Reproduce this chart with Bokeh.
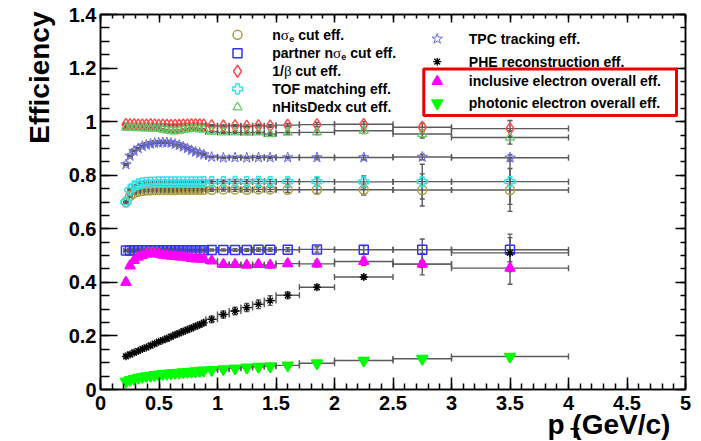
import numpy as np
from bokeh.plotting import figure
from bokeh.models import (LinearAxis, FixedTicker, ColumnDataSource, Label,
                          BoxAnnotation, Range1d, Title)
from bokeh.embed import file_html
from bokeh.resources import INLINE

# ---------------- data ----------------
pt_edges = [0.2, 0.235, 0.27, 0.305, 0.34, 0.375, 0.41, 0.445, 0.48, 0.515, 0.55,
            0.585, 0.62, 0.655, 0.69, 0.725, 0.76, 0.795, 0.83, 0.865, 0.9,
            1.0, 1.1, 1.2, 1.3, 1.4, 1.5, 1.7, 2.0, 2.5, 3.0, 4.0]

nsige_eff = [0.700, 0.722, 0.733, 0.738, 0.741, 0.743, 0.744, 0.745, 0.745, 0.745,
             0.745, 0.745, 0.745, 0.746, 0.746, 0.746, 0.746, 0.746, 0.746, 0.746,
             0.746, 0.747, 0.747, 0.746, 0.747, 0.747, 0.746, 0.746, 0.746, 0.745, 0.745]
nsige_err = [0.006, 0.004, 0.004, 0.004, 0.004, 0.004, 0.004, 0.004, 0.004, 0.004,
             0.004, 0.004, 0.004, 0.004, 0.004, 0.004, 0.004, 0.004, 0.004, 0.004,
             0.006, 0.006, 0.007, 0.007, 0.008, 0.008, 0.010, 0.014, 0.020, 0.060, 0.080]

partner_eff = [0.519, 0.519, 0.520, 0.520, 0.520, 0.520, 0.520, 0.520, 0.520, 0.520,
               0.520, 0.520, 0.520, 0.520, 0.520, 0.520, 0.520, 0.520, 0.520, 0.520,
               0.521, 0.521, 0.521, 0.521, 0.522, 0.522, 0.522, 0.523, 0.522, 0.522, 0.522]
partner_err = [0.003, 0.003, 0.003, 0.003, 0.003, 0.003, 0.003, 0.003, 0.003, 0.003,
               0.003, 0.003, 0.003, 0.003, 0.003, 0.003, 0.003, 0.003, 0.003, 0.003,
               0.004, 0.004, 0.005, 0.005, 0.006, 0.006, 0.007, 0.010, 0.015, 0.040, 0.045]

beta_eff = [0.990, 0.989, 0.989, 0.988, 0.988, 0.988, 0.989, 0.988, 0.987, 0.988,
            0.987, 0.986, 0.987, 0.987, 0.988, 0.988, 0.989, 0.989, 0.989, 0.988,
            0.985, 0.984, 0.985, 0.983, 0.985, 0.984, 0.987, 0.989, 0.990, 0.979, 0.974]
beta_err = [0.003, 0.003, 0.003, 0.003, 0.003, 0.003, 0.003, 0.003, 0.003, 0.003,
            0.003, 0.003, 0.003, 0.003, 0.003, 0.003, 0.003, 0.003, 0.003, 0.003,
            0.004, 0.004, 0.004, 0.005, 0.005, 0.005, 0.006, 0.008, 0.010, 0.015, 0.030]

tof_eff = [0.700, 0.745, 0.760, 0.767, 0.771, 0.773, 0.774, 0.774, 0.775, 0.775,
           0.775, 0.775, 0.775, 0.775, 0.775, 0.775, 0.775, 0.775, 0.775, 0.776,
           0.776, 0.776, 0.777, 0.776, 0.777, 0.776, 0.776, 0.776, 0.775, 0.776, 0.776]
tof_err = [0.006, 0.004, 0.004, 0.004, 0.004, 0.004, 0.004, 0.004, 0.004, 0.004,
           0.004, 0.004, 0.004, 0.004, 0.004, 0.004, 0.004, 0.004, 0.004, 0.004,
           0.006, 0.006, 0.007, 0.007, 0.008, 0.008, 0.010, 0.015, 0.022, 0.065, 0.085]

dedx_eff = [0.978, 0.977, 0.977, 0.976, 0.976, 0.975, 0.975, 0.974, 0.973, 0.971,
            0.968, 0.965, 0.964, 0.966, 0.970, 0.972, 0.973, 0.973, 0.972, 0.971,
            0.962, 0.960, 0.960, 0.959, 0.960, 0.954, 0.959, 0.960, 0.966, 0.954, 0.941]
dedx_err = [0.003, 0.003, 0.003, 0.003, 0.003, 0.003, 0.003, 0.003, 0.003, 0.003,
            0.003, 0.003, 0.003, 0.003, 0.003, 0.003, 0.003, 0.003, 0.003, 0.003,
            0.004, 0.004, 0.004, 0.005, 0.005, 0.005, 0.006, 0.008, 0.010, 0.015, 0.025]

tpc_eff = [0.840, 0.872, 0.890, 0.900, 0.908, 0.913, 0.917, 0.920, 0.921, 0.922,
           0.922, 0.920, 0.916, 0.912, 0.906, 0.900, 0.893, 0.887, 0.882, 0.877,
           0.868, 0.865, 0.866, 0.865, 0.866, 0.866, 0.866, 0.866, 0.866, 0.868, 0.865]
tpc_err = [0.003, 0.003, 0.003, 0.003, 0.003, 0.003, 0.003, 0.003, 0.003, 0.003,
           0.003, 0.003, 0.003, 0.003, 0.003, 0.003, 0.003, 0.003, 0.003, 0.003,
           0.003, 0.003, 0.003, 0.003, 0.004, 0.004, 0.004, 0.006, 0.008, 0.010, 0.012]

phe_eff = [0.124, 0.131, 0.138, 0.144, 0.151, 0.157, 0.164, 0.171, 0.178, 0.184,
           0.190, 0.197, 0.204, 0.210, 0.217, 0.223, 0.229, 0.236, 0.242, 0.249,
           0.262, 0.280, 0.293, 0.306, 0.318, 0.332, 0.352, 0.382, 0.420, 0.468, 0.510]
phe_err = [0.008, 0.008, 0.008, 0.008, 0.008, 0.008, 0.008, 0.008, 0.008, 0.008,
           0.009, 0.009, 0.009, 0.009, 0.010, 0.010, 0.010, 0.010, 0.010, 0.010,
           0.012, 0.013, 0.014, 0.015, 0.016, 0.018, 0.012, 0.010, 0.008, 0.012, 0.070]

incl_eff = [0.400, 0.462, 0.482, 0.494, 0.501, 0.505, 0.507, 0.507, 0.505, 0.502,
            0.500, 0.498, 0.497, 0.495, 0.494, 0.492, 0.490, 0.488, 0.487, 0.487,
            0.480, 0.467, 0.467, 0.464, 0.467, 0.464, 0.470, 0.469, 0.478, 0.468, 0.453]
incl_err = [0.006, 0.006, 0.006, 0.006, 0.006, 0.006, 0.006, 0.006, 0.006, 0.006,
            0.006, 0.006, 0.006, 0.006, 0.006, 0.006, 0.006, 0.006, 0.006, 0.006,
            0.008, 0.008, 0.008, 0.008, 0.009, 0.010, 0.010, 0.012, 0.015, 0.040, 0.060]

phot_eff = [0.030, 0.036, 0.040, 0.044, 0.047, 0.050, 0.052, 0.054, 0.056, 0.058,
            0.059, 0.061, 0.062, 0.063, 0.065, 0.066, 0.067, 0.068, 0.070, 0.071,
            0.073, 0.076, 0.079, 0.082, 0.085, 0.087, 0.090, 0.098, 0.108, 0.115, 0.123]
phot_err = [0.002, 0.002, 0.002, 0.002, 0.002, 0.002, 0.002, 0.002, 0.002, 0.002,
            0.002, 0.002, 0.002, 0.002, 0.002, 0.002, 0.002, 0.002, 0.002, 0.002,
            0.003, 0.003, 0.003, 0.003, 0.004, 0.004, 0.004, 0.005, 0.006, 0.008, 0.010]

x_ticks = [0, 0.5, 1, 1.5, 2, 2.5, 3, 3.5, 4, 4.5, 5]
x_tick_labels = ["0", "0.5", "1", "1.5", "2", "2.5", "3", "3.5", "4", "4.5", "5"]
y_ticks = [0, 0.2, 0.4, 0.6, 0.8, 1.0, 1.2, 1.4]
y_tick_labels = ["0", "0.2", "0.4", "0.6", "0.8", "1", "1.2", "1.4"]

# ---------------- styles ----------------
FONT = "Liberation Sans"
ERR_COLOR = "#5a5a5a"

styles = [
    # key, values, errors, marker, color, filled, size, line width
    ("nsige", nsige_eff, nsige_err, "circle", "#aaa040", False, 9, 1.5),
    ("partner", partner_eff, partner_err, "square", "#3030ff", False, 9, 1.5),
    ("beta", beta_eff, beta_err, "diamond", "#ff4a4a", False, 12, 1.5),
    ("tof", tof_eff, tof_err, "plus", "#30e4e8", False, 10, 1.5),
    ("dedx", dedx_eff, dedx_err, "triangle", "#66cc66", False, 9, 1.3),
    ("tpc", tpc_eff, tpc_err, "star", "#6a6ae0", False, 11, 1.0),
    ("phe", phe_eff, phe_err, "asterisk", "#000000", False, 8, 1.3),
    ("incl", incl_eff, incl_err, "triangle", "#ff00ff", True, 10, 1.5),
    ("phot", phot_eff, phot_err, "inverted_triangle", "#00ff00", True, 11, 1.5),
]

p = figure(width=701, height=441, x_range=Range1d(0, 5), y_range=Range1d(0, 1.4),
           output_backend="svg", toolbar_location=None,
           min_border_left=100, min_border_right=16, min_border_top=14,
           min_border_bottom=52)
p.grid.visible = False
p.outline_line_color = "black"
p.outline_line_width = 1.5
p.background_fill_color = "white"
p.border_fill_color = "white"

lo = np.array(pt_edges[:-1])
hi = np.array(pt_edges[1:])
xc = (lo + hi) / 2

sources = []
for key, vals, errs, marker, color, filled, size, lw in styles:
    v = np.array(vals)
    e = np.array(errs)
    src = ColumnDataSource(dict(x=xc, y=v, xlo=lo, xhi=hi, ylo=v - e, yhi=v + e))
    sources.append(src)
    p.segment(x0="xlo", y0="y", x1="xhi", y1="y", source=src,
              line_color=ERR_COLOR, line_width=1.4)
    p.segment(x0="x", y0="ylo", x1="x", y1="yhi", source=src,
              line_color=ERR_COLOR, line_width=1.4)
    p.scatter(x="xlo", y="y", source=src, marker="dash", angle=np.pi / 2, size=6,
              line_color=ERR_COLOR, line_width=1.4)
    p.scatter(x="xhi", y="y", source=src, marker="dash", angle=np.pi / 2, size=6,
              line_color=ERR_COLOR, line_width=1.4)
    p.scatter(x="x", y="ylo", source=src, marker="dash", size=5,
              line_color=ERR_COLOR, line_width=1.4)
    p.scatter(x="x", y="yhi", source=src, marker="dash", size=5,
              line_color=ERR_COLOR, line_width=1.4)

for (key, vals, errs, marker, color, filled, size, lw), src in zip(styles, sources):
    p.scatter(x="x", y="y", source=src, marker=marker, size=size,
              line_color=color, line_width=lw,
              fill_color=color if filled else None)

# ---------------- axes ----------------
def style_axis(ax, tick_in, minor_in):
    ax.axis_line_width = 1.5
    ax.major_tick_line_width = 1.5
    ax.minor_tick_line_width = 1.5
    ax.major_tick_in = tick_in
    ax.major_tick_out = 0
    ax.minor_tick_in = minor_in
    ax.minor_tick_out = 0
    ax.major_label_text_font = FONT
    ax.major_label_text_font_style = "bold"
    ax.major_label_text_color = "black"

x_minor = list(np.round(np.arange(0, 5.0001, 0.1), 3))
y_minor = list(np.round(np.arange(0, 1.40001, 0.05), 3))

p.xaxis.ticker = FixedTicker(ticks=x_ticks, minor_ticks=x_minor)
p.yaxis.ticker = FixedTicker(ticks=y_ticks, minor_ticks=y_minor)
p.xaxis.major_label_overrides = dict(zip(x_ticks, x_tick_labels))
p.yaxis.major_label_overrides = dict(zip(y_ticks, y_tick_labels))
style_axis(p.xaxis[0], 12, 6)
style_axis(p.yaxis[0], 17, 9)
p.xaxis.major_label_text_font_size = "20px"
p.yaxis.major_label_text_font_size = "20px"
p.xaxis.major_label_standoff = 6
p.yaxis.major_label_standoff = 4

top = LinearAxis(ticker=FixedTicker(ticks=x_ticks, minor_ticks=x_minor))
style_axis(top, 8, 4)
top.major_label_overrides = {t: "" for t in x_ticks}
top.major_label_text_font_size = "8px"
top.major_label_standoff = 0
p.add_layout(top, "above")
right = LinearAxis(ticker=FixedTicker(ticks=y_ticks, minor_ticks=y_minor))
style_axis(right, 10, 5)
right.major_label_overrides = {t: "" for t in y_ticks}
right.major_label_text_font_size = "8px"
right.major_label_standoff = 0
p.add_layout(right, "right")

# axis titles (ROOT style: right-aligned at the axis end)
p.add_layout(Title(text="Efficiency", align="right", offset=-3, text_font=FONT,
                   text_font_size="28px", text_font_style="bold",
                   text_color="black", standoff=21), "left")
p.add_layout(Title(text="p     (GeV/c)", align="right", offset=-16, text_font=FONT,
                   text_font_size="28px", text_font_style="bold",
                   text_color="black", standoff=-12), "below")
p.add_layout(Title(text="T", align="right", vertical_align="top", offset=106,
                   text_font=FONT, text_font_size="15px", text_font_style="bold",
                   text_color="black", standoff=-20), "below")

def txt(x, y, text, size, font=FONT, style="bold", xo=0, yo=0, align="left",
        baseline="middle"):
    p.add_layout(Label(x=x, y=y, text=text, text_font=font,
                       text_font_size=f"{size}px", text_font_style=style,
                       x_offset=xo, y_offset=yo, text_align=align,
                       text_baseline=baseline, text_color="black"))

# ---------------- legend ----------------
leg_left = dict(mx=1.171, tx=1.468, rows=[1.324, 1.255, 1.188, 1.122, 1.054])
leg_right = dict(mx=2.878, tx=3.148, rows=[1.309, 1.224, 1.150, 1.069])
LS = 14

for i, (key, vals, errs, marker, color, filled, size, lw) in enumerate(styles):
    if i < 5:
        mx, my = leg_left["mx"], leg_left["rows"][i]
    else:
        mx, my = leg_right["mx"], leg_right["rows"][i - 5]
    p.scatter(x=[mx], y=[my], marker=marker, size=size, line_color=color,
              line_width=lw, fill_color=color if filled else None)

tx = leg_left["tx"]
r = leg_left["rows"]
txt(tx, r[0], "n", LS)
txt(tx, r[0], "σ", LS + 1, font="Liberation Serif", style="normal", xo=8.6)
txt(tx, r[0], "e", 9, xo=17, yo=-4)
txt(tx, r[0], "cut eff.", LS, xo=26)
txt(tx, r[1], "partner n", LS)
txt(tx, r[1], "σ", LS + 1, font="Liberation Serif", style="normal", xo=60.7)
txt(tx, r[1], "e", 9, xo=69, yo=-4)
txt(tx, r[1], "cut eff.", LS, xo=78)
txt(tx, r[2], "1/", LS)
txt(tx, r[2], "β", LS + 1, font="Liberation Serif", style="normal", xo=11.7)
txt(tx, r[2], "cut eff.", LS, xo=23)
txt(tx, r[3], "TOF matching eff.", LS)
txt(tx, r[4], "nHitsDedx cut eff.", LS)

tx2 = leg_right["tx"]
r2 = leg_right["rows"]
txt(tx2, r2[0], "TPC tracking eff.", LS)
txt(tx2, r2[1], "PHE reconstruction eff.", LS)
txt(tx2, r2[2], "inclusive electron overall eff.", LS)
txt(tx2, r2[3], "photonic electron overall eff.", LS)

p.add_layout(BoxAnnotation(left=2.763, right=4.923, bottom=1.023, top=1.197,
                           fill_alpha=0, line_color="#ee0000", line_alpha=1.0,
                           line_width=3))

open("out.html", "w").write(file_html(p, INLINE))
